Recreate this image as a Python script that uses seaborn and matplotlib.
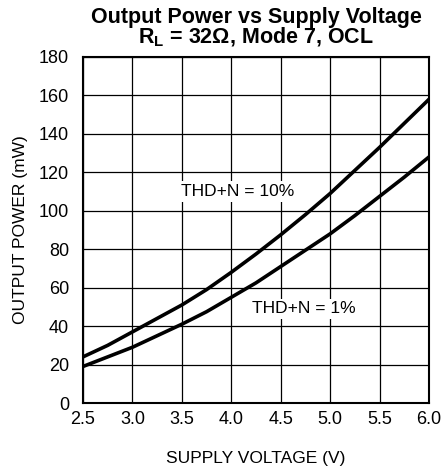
import matplotlib
matplotlib.use("Agg")
import matplotlib.pyplot as plt
import seaborn as sns
import pandas as pd

voltage = [2.5, 2.75, 3.0, 3.25, 3.5, 3.75, 4.0, 4.25, 4.5, 4.75, 5.0, 5.25, 5.5, 5.75, 6.0]
power_thd10 = [24, 30, 37, 44, 51, 59, 68, 77.5, 87.5, 98, 109, 121, 133, 145.5, 158]
power_thd1 = [19, 24, 29, 35, 41, 47.5, 55, 62.5, 71, 79.5, 88, 97.5, 107.5, 117.5, 128]
series_labels = ["THD+N = 10%", "THD+N = 1%"]
x_ticks = [2.5, 3.0, 3.5, 4.0, 4.5, 5.0, 5.5, 6.0]
y_ticks = [0, 20, 40, 60, 80, 100, 120, 140, 160, 180]

sns.set_theme(style="white")
plt.rcParams['font.family'] = ['Liberation Sans', 'DejaVu Sans']
plt.rcParams['text.color'] = 'black'
plt.rcParams['axes.labelcolor'] = 'black'
plt.rcParams['xtick.color'] = 'black'
plt.rcParams['ytick.color'] = 'black'

df = pd.DataFrame({
    "V": voltage * 2,
    "P": power_thd10 + power_thd1,
    "s": [series_labels[0]] * len(voltage) + [series_labels[1]] * len(voltage),
})

fig = plt.figure(figsize=(4.42, 4.69), dpi=100)
ax = fig.add_axes([0.1878, 0.1407, 0.7828, 0.7378])
sns.lineplot(data=df, x="V", y="P", hue="s", palette=["black", "black"],
             linewidth=2.6, legend=False, ax=ax, zorder=3)

ax.set_xlim(2.5, 6.0)
ax.set_ylim(0, 180)
ax.set_xticks(x_ticks)
ax.set_xticklabels([f"{v:.1f}" for v in x_ticks])
ax.set_yticks(y_ticks)
ax.set_yticklabels([str(v) for v in y_ticks])
ax.grid(True, color="black", linewidth=0.9)
ax.tick_params(length=0, labelsize=13, colors="black", labelcolor="black")
ax.tick_params(axis="y", pad=10)
ax.tick_params(axis="x", pad=6)
for sp in ax.spines.values():
    sp.set_visible(True)
    sp.set_color("black")
    sp.set_linewidth(1.5)

ax.set_xlabel("SUPPLY VOLTAGE (V)", fontsize=12.5, labelpad=16, color="black")
ax.set_ylabel("OUTPUT POWER (mW)", fontsize=12.5, labelpad=8, color="black")
ax.set_title("Output Power vs Supply Voltage\nR$_\\mathregular{L}$ = 32Ω, Mode 7, OCL",
             fontsize=15.5, fontweight="bold", linespacing=0.88, pad=10, color="black")

bbox = dict(facecolor="white", edgecolor="none", pad=2)
ax.text(4.06, 110, series_labels[0], ha="center", va="center", fontsize=12.5,
        color="black", bbox=bbox, zorder=4)
ax.text(4.73, 49, series_labels[1], ha="center", va="center", fontsize=12.5,
        color="black", bbox=bbox, zorder=4)

fig.savefig("out.png", dpi=100)
